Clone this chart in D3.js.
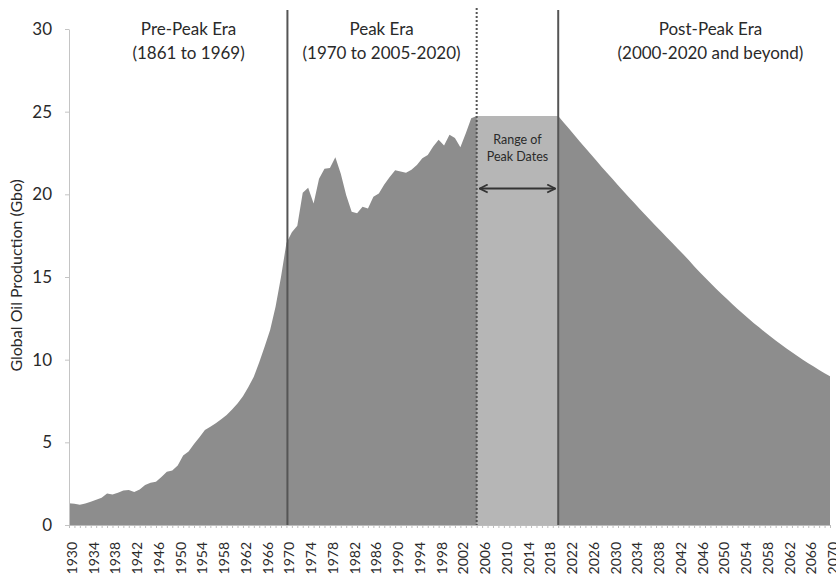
<!DOCTYPE html>
<html>
<head>
<meta charset="utf-8">
<script src="https://cdn.jsdelivr.net/npm/d3@7"></script>
<style>
  body { margin: 0; background: #fff; }
  text { font-family: Lato, "Open Sans", sans-serif; fill: #2a2a2a; }
</style>
</head>
<body>
<svg id="chart" width="836" height="580"></svg>
<script>
// years on the category axis
var years = d3.range(1930, 2071)

// global oil production, Gbo, one value per year 1930..2070
var production = [
  1.31, 1.28, 1.22, 1.30, 1.40, 1.52, 1.65, 1.90, 1.85, 1.95,   // 1930s
  2.08, 2.12, 2.00, 2.15, 2.42, 2.55, 2.62, 2.90, 3.22, 3.30,   // 1940s
  3.60, 4.20, 4.45, 4.90, 5.30, 5.75, 5.95, 6.15, 6.40, 6.65,   // 1950s
  6.98, 7.35, 7.78, 8.35, 8.97, 9.85, 10.80, 11.80, 13.20, 15.00, // 1960s
  17.05, 17.70, 18.10, 20.10, 20.40, 19.45, 20.95, 21.55, 21.60, 22.25, // 1970s
  21.25, 19.95, 18.95, 18.85, 19.25, 19.15, 19.85, 20.05, 20.60, 21.05, // 1980s
  21.45, 21.38, 21.30, 21.48, 21.78, 22.18, 22.38, 22.90, 23.30, 22.95, // 1990s
  23.60, 23.40, 22.85, 23.70, 24.60, 24.74, 24.74, 24.74, 24.74, 24.74, // 2000s
  24.74, 24.74, 24.74, 24.74, 24.74, 24.74, 24.74, 24.74, 24.74, 24.74, // 2010s
  24.74, 24.35, 23.96, 23.57, 23.18, 22.80, 22.42, 22.04, 21.66, 21.29, // 2020s
  20.92, 20.55, 20.19, 19.83, 19.47, 19.12, 18.77, 18.42, 18.07, 17.73, // 2030s
  17.39, 17.05, 16.71, 16.37, 16.03, 15.65, 15.31, 14.97, 14.64, 14.31, // 2040s
  13.99, 13.68, 13.37, 13.07, 12.78, 12.49, 12.21, 11.94, 11.67, 11.41, // 2050s
  11.16, 10.92, 10.68, 10.45, 10.22, 10.00, 9.79, 9.58, 9.38, 9.18,     // 2060s
  9.00                                                                  // 2070
]

var yTicks = [0, 5, 10, 15, 20, 25, 30]
var peakEraStart = 1970
var peakRange = [2005, 2020]
var eras = [
  {year: 1952, title: 'Pre-Peak Era', sub: '(1861 to 1969)'},
  {year: 1987.5, title: 'Peak Era', sub: '(1970 to 2005-2020)'},
  {year: 2048, title: 'Post-Peak Era', sub: '(2000-2020 and beyond)'}
]

var data = years.map(function(y, i) { return {year: y, value: production[i]} })

// plot box (note: "top" would clash with window.top)
var pLeft = 69, pRight = 830, pTop = 29, pBottom = 525
var svg = d3.select('#chart')

var x = d3.scalePoint().domain(years).range([pLeft, pRight])
var xl = d3.scaleLinear().domain([1930, 2070]).range([pLeft, pRight])
var y = d3.scaleLinear().domain([0, 30]).range([pBottom, pTop])

// main area
var area = d3.area()
  .x(function(d) { return x(d.year) })
  .y0(y(0))
  .y1(function(d) { return y(d.value) })

svg.append('path')
  .datum(data)
  .attr('fill', '#8d8d8d')
  .attr('d', area)

// range of peak dates, lighter
svg.append('path')
  .datum(data.filter(function(d) { return d.year >= peakRange[0] && d.year <= peakRange[1] }))
  .attr('fill', '#b6b6b6')
  .attr('d', area)

// y axis
var yAxis = svg.append('g')
  .attr('transform', 'translate(' + pLeft + ',0)')
  .call(d3.axisLeft(y).tickValues(yTicks).tickSize(4).tickSizeOuter(0).tickPadding(13))
yAxis.selectAll('path, line').attr('stroke', '#c4c4c4')
yAxis.selectAll('text').style('font-size', '17px').attr('fill', '#2a2a2a')

// x axis, minor tick every year, labels every 4 years
var xAxis = svg.append('g')
  .attr('transform', 'translate(0,' + pBottom + ')')
  .call(d3.axisBottom(x).tickSize(3).tickSizeOuter(0).tickFormat(''))
xAxis.selectAll('path, line').attr('stroke', '#bdbdbd')

svg.append('g').selectAll('text')
  .data(years.filter(function(d) { return (d - 1930) % 4 === 0 }))
  .join('text')
  .attr('transform', function(d) { return 'translate(' + (x(d) + 8) + ',' + (pBottom + 17) + ') rotate(-90)' })
  .attr('text-anchor', 'end')
  .style('font-size', '14px')
  .text(function(d) { return d })

// y title
svg.append('text')
  .attr('transform', 'translate(22,' + y(15.1) + ') rotate(-90)')
  .attr('text-anchor', 'middle')
  .style('font-size', '16px')
  .text('Global Oil Production (Gbo)')

// era dividers
svg.append('line')
  .attr('x1', x(peakEraStart) + 1).attr('x2', x(peakEraStart) + 1)
  .attr('y1', 10).attr('y2', pBottom)
  .attr('stroke', '#555').attr('stroke-width', 2)
svg.append('line')
  .attr('x1', x(peakRange[0])).attr('x2', x(peakRange[0]))
  .attr('y1', 8).attr('y2', pBottom)
  .attr('stroke', '#555').attr('stroke-width', 2)
  .attr('stroke-dasharray', '2,2')
svg.append('line')
  .attr('x1', x(peakRange[1])).attr('x2', x(peakRange[1]))
  .attr('y1', 10).attr('y2', pBottom)
  .attr('stroke', '#555').attr('stroke-width', 2)

// era titles
var et = svg.append('g').selectAll('g').data(eras).join('g')
  .attr('transform', function(d) { return 'translate(' + xl(d.year) + ',0)' })
et.append('text').attr('y', 35).attr('text-anchor', 'middle')
  .style('font-size', '17px').text(function(d) { return d.title })
et.append('text').attr('y', 59).attr('text-anchor', 'middle')
  .style('font-size', '17px').text(function(d) { return d.sub })

// range of peak dates label + arrow
var mid = (x(peakRange[0]) + x(peakRange[1])) / 2
svg.append('text').attr('x', mid).attr('y', y(23.05))
  .attr('text-anchor', 'middle').style('font-size', '12.5px').attr('fill', '#444')
  .text('Range of')
svg.append('text').attr('x', mid).attr('y', y(22.0))
  .attr('text-anchor', 'middle').style('font-size', '12.5px').attr('fill', '#444')
  .text('Peak Dates')

var defs = svg.append('defs')
defs.append('marker').attr('id', 'ah').attr('viewBox', '0 0 10 10')
  .attr('refX', 9).attr('refY', 5).attr('markerWidth', 5).attr('markerHeight', 5)
  .attr('orient', 'auto-start-reverse')
  .append('path').attr('d', 'M1,1 L9,5 L1,9').attr('fill', 'none')
  .attr('stroke', '#333').attr('stroke-width', 1.8)

var ay = y(20.35)
svg.append('line')
  .attr('x1', x(peakRange[0]) + 3).attr('x2', x(peakRange[1]) - 3)
  .attr('y1', ay).attr('y2', ay)
  .attr('stroke', '#333').attr('stroke-width', 2)
  .attr('marker-start', 'url(#ah)').attr('marker-end', 'url(#ah)')
</script>
</body>
</html>
